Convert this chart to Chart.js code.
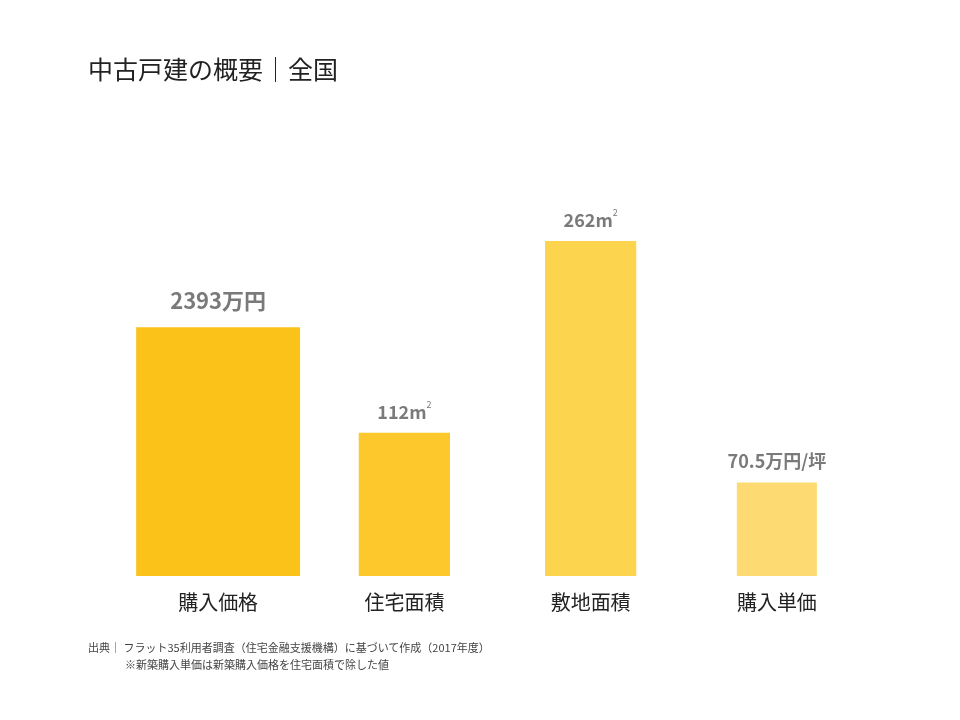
<!DOCTYPE html><html><head><meta charset="utf-8">
<script src="https://cdn.jsdelivr.net/npm/chart.js@4"></script>
<style>body{margin:0;background:#fff}#w{position:relative;width:960px;height:720px}
.t{position:absolute;font-family:"Noto Sans CJK JP";color:#222}
</style></head><body><div id="w">
<div class="t" style="left:88px;top:50px;font-size:25px">中古戸建の概要｜全国</div>
<canvas id="c" width="960" height="720"></canvas>
<div class="t" style="left:88px;top:639px;font-size:11px;color:#444">出典｜ フラット35利用者調査（住宅金融支援機構）に基づいて作成（2017年度）</div>
<div class="t" style="left:125px;top:656px;font-size:11px;color:#444">※新築購入単価は新築購入価格を住宅面積で除した値</div>
</div>
<script>
const categories=["購入価格","住宅面積","敷地面積","購入単価"];
const values=[2393,112,262,70.5];
const units=["万円","m²","m²","万円/坪"];
const axes=["yp","ya","ya","yu"];
const colors=["#FBC21A","#FCC82B","#FDD44E","#FEDB72"];
const widths=[0.88,0.49,0.49,0.43];
const ds=values.map((v,i)=>({data:categories.map((_,j)=>j===i?v:null),yAxisID:axes[i],backgroundColor:colors[i],barPercentage:widths[i],categoryPercentage:1,unit:units[i]}));
const lbl={id:'lbl',afterDatasetsDraw(ch){const c=ch.ctx;ch.data.datasets.forEach((d,i)=>{const el=ch.getDatasetMeta(i).data[i];const big=i===0;const fs=big?22:18;c.save();c.fillStyle='#7a7a7a';c.font=`bold ${fs}px "Noto Sans CJK JP"`;c.textBaseline='alphabetic';
const num=String(values[i]);let u=d.unit;let sup=false;if(u==='m²'){u='m';sup=true;}
const t=num+u;const w=c.measureText(t).width+(sup?5:0);let x=el.x-w/2;const y=el.y-(big?18:14);c.fillText(t,x,y);
if(sup){c.font=`${fs*0.45}px "Noto Sans CJK JP"`;c.fillText('2',x+c.measureText?x:0,0);}
c.restore();
if(sup){c.save();c.fillStyle='#7a7a7a';c.font=`bold ${fs}px "Noto Sans CJK JP"`;const wt=c.measureText(t).width;c.font=`${fs*0.5}px "Noto Sans CJK JP"`;c.fillText('2',x+wt,y-fs*0.6);c.restore();}
});}};
new Chart(document.getElementById('c'),{type:'bar',data:{labels:categories,datasets:ds},plugins:[lbl],
options:{responsive:false,animation:false,layout:{padding:{left:125,right:90,top:200,bottom:100}},
plugins:{legend:{display:false},tooltip:{enabled:false}},
scales:{x:{stacked:true,grid:{display:false},border:{display:false},ticks:{color:'#222',font:{size:20,family:'"Noto Sans CJK JP"'},padding:6}},
yp:{display:false,min:0,max:3618,stacked:true},ya:{display:false,min:0,max:294,stacked:true},yu:{display:false,min:0,max:283.5,stacked:true}}}});
</script></body></html>
